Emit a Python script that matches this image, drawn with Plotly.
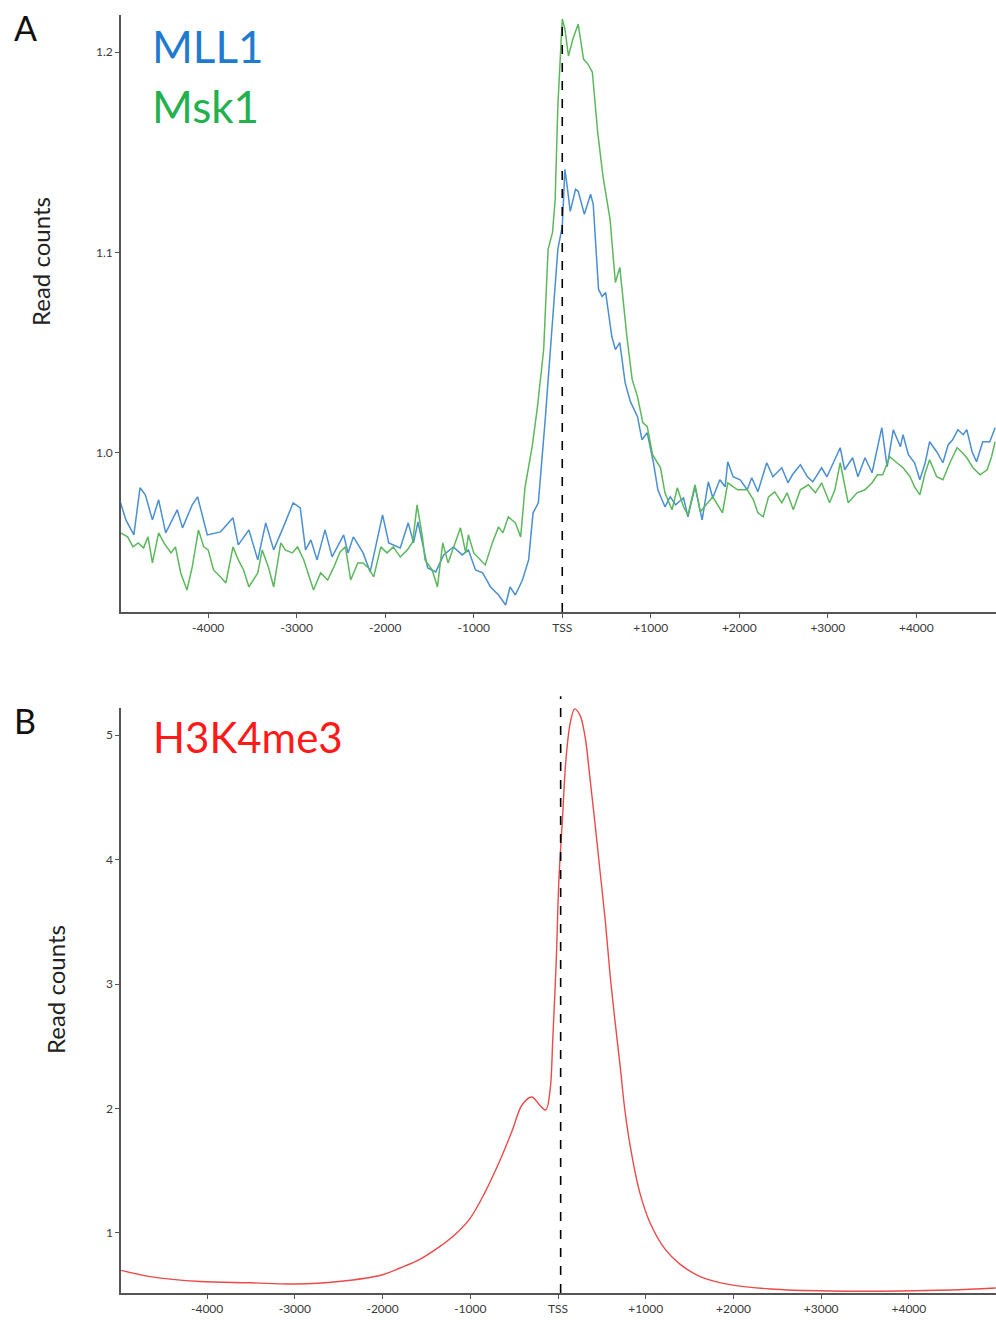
import plotly.graph_objects as go

# ---------------- Panel A data ----------------
mll1_pos = [-4990, -4930, -4840, -4770, -4710, -4630, -4560, -4480, -4350, -4290, -4180, -4120,
            -4010, -3860, -3720, -3660, -3540, -3440, -3350, -3260, -3150, -3040, -2960, -2900,
            -2840, -2770, -2680, -2600, -2470, -2420, -2360, -2250, -2170, -2030, -1960, -1830,
            -1740, -1680, -1630, -1520, -1430, -1340, -1230, -1130, -1060, -980, -900, -810,
            -720, -640, -590, -530, -450, -380, -330, -270, -190, -110, -50, 0, 30, 60, 90,
            150, 180, 250, 320, 350, 410, 450, 490, 560, 600, 650, 710, 770, 850, 900, 960,
            1030, 1080, 1160, 1220, 1280, 1370, 1420, 1500, 1580, 1650, 1700, 1780, 1840, 1870,
            1930, 2010, 2090, 2140, 2210, 2310, 2380, 2480, 2550, 2600, 2690, 2770, 2830, 2930,
            2990, 3060, 3140, 3190, 3280, 3340, 3420, 3500, 3560, 3610, 3670, 3740, 3820, 3850,
            3910, 3980, 4040, 4100, 4150, 4230, 4300, 4360, 4410, 4470, 4530, 4570, 4630, 4680,
            4750, 4830, 4890]
mll1_val = [0.975, 0.9665, 0.959, 0.9825, 0.979, 0.9665, 0.9765, 0.960, 0.9715, 0.9625, 0.974, 0.978,
            0.959, 0.9605, 0.9675, 0.954, 0.9615, 0.9465, 0.965, 0.9515, 0.963, 0.975, 0.9725, 0.9515,
            0.9565, 0.9465, 0.9615, 0.948, 0.959, 0.950, 0.958, 0.950, 0.9405, 0.969, 0.955, 0.9525,
            0.965, 0.955, 0.9655, 0.9425, 0.9405, 0.949, 0.953, 0.949, 0.9515, 0.9415, 0.940, 0.933,
            0.929, 0.924, 0.933, 0.929, 0.9365, 0.9465, 0.970, 0.975, 1.018, 1.065, 1.1015, 1.113,
            1.1415, 1.1315, 1.1205, 1.1315, 1.1305, 1.119, 1.129, 1.124, 1.0815, 1.078, 1.080, 1.058,
            1.0515, 1.055, 1.035, 1.0255, 1.018, 1.0065, 1.010, 0.995, 0.9815, 0.973, 0.978, 0.974,
            0.9775, 0.968, 0.983, 0.9665, 0.9855, 0.9775, 0.9865, 0.983, 0.9955, 0.988, 0.9865,
            0.9815, 0.9875, 0.9805, 0.995, 0.988, 0.9925, 0.985, 0.989, 0.994, 0.988, 0.9855,
            0.9925, 0.988, 0.995, 1.0025, 0.9915, 0.9975, 0.988, 0.9975, 0.990, 1.003, 1.0125,
            0.993, 1.0115, 1.003, 1.009, 0.999, 0.995, 0.9865, 0.995, 1.0055, 1.0005, 0.995,
            1.004, 1.0065, 1.0115, 1.009, 1.0115, 1.0005, 0.9955, 1.0055, 1.0055, 1.0125]

msk1_pos = [-4990, -4910, -4850, -4790, -4730, -4680, -4630, -4560, -4500, -4420, -4370, -4310,
            -4240, -4180, -4110, -4050, -4000, -3940, -3860, -3800, -3720, -3660, -3600, -3540,
            -3440, -3390, -3320, -3260, -3180, -3130, -3050, -2990, -2920, -2870, -2810, -2730,
            -2650, -2580, -2510, -2450, -2390, -2310, -2250, -2190, -2130, -2050, -1980, -1910,
            -1830, -1750, -1690, -1640, -1580, -1550, -1470, -1410, -1350, -1290, -1230, -1150,
            -1090, -1060, -1000, -930, -870, -790, -720, -670, -610, -530, -470, -420, -340,
            -280, -210, -160, -110, -80, -50, 0, 30, 70, 120, 180, 240, 290, 340, 400, 460, 540,
            600, 650, 730, 790, 850, 910, 960, 1020, 1110, 1160, 1240, 1300, 1370, 1420, 1500,
            1560, 1640, 1700, 1810, 1870, 1980, 2090, 2160, 2210, 2270, 2330, 2400, 2480, 2540,
            2610, 2690, 2780, 2860, 2930, 3020, 3080, 3140, 3230, 3330, 3420, 3500, 3560, 3620,
            3700, 3780, 3850, 3930, 3980, 4040, 4100, 4150, 4230, 4300, 4380, 4460, 4510, 4570,
            4640, 4720, 4800, 4850, 4890]
msk1_val = [0.960, 0.958, 0.953, 0.955, 0.9525, 0.958, 0.945, 0.960, 0.955, 0.950, 0.953, 0.940,
            0.9315, 0.943, 0.9615, 0.953, 0.9515, 0.9415, 0.938, 0.935, 0.953, 0.9465, 0.9415, 0.933,
            0.940, 0.9515, 0.943, 0.933, 0.955, 0.9515, 0.950, 0.953, 0.9465, 0.940, 0.9315, 0.940,
            0.9365, 0.943, 0.9505, 0.953, 0.9365, 0.945, 0.945, 0.9425, 0.938, 0.953, 0.950, 0.953,
            0.948, 0.9515, 0.9555, 0.974, 0.958, 0.9465, 0.9415, 0.933, 0.955, 0.945, 0.953, 0.9625,
            0.950, 0.959, 0.950, 0.9465, 0.944, 0.955, 0.963, 0.960, 0.968, 0.965, 0.958, 0.983, 1.003,
            1.023, 1.0515, 1.1015, 1.110, 1.1265, 1.173, 1.2165, 1.2115, 1.198, 1.2065, 1.214, 1.1965,
            1.194, 1.190, 1.160, 1.138, 1.1165, 1.085, 1.0925, 1.058, 1.0365, 1.028, 1.015, 1.013,
            0.999, 0.9925, 0.980, 0.9715, 0.9825, 0.973, 0.969, 0.984, 0.9705, 0.975, 0.978, 0.970,
            0.985, 0.9815, 0.9815, 0.9765, 0.970, 0.968, 0.978, 0.9805, 0.975, 0.980, 0.9715, 0.9815,
            0.984, 0.980, 0.985, 0.975, 0.9815, 0.995, 0.975, 0.980, 0.9815, 0.985, 0.989, 0.989,
            0.998, 0.995, 0.9925, 0.988, 0.983, 0.979, 0.990, 0.9965, 0.988, 0.9865, 0.995, 1.0025,
            1.0005, 0.9975, 0.9925, 0.989, 0.9915, 0.998, 1.0055]

# ---------------- Panel B data ----------------
h3_pos = [-4980, -4650, -4080, -3510, -3000, -2500, -2000, -1800, -1570, -1350, -1170,
          -1000, -830, -660, -520, -410, -300, -210, -140, -90, -60, -20, 10, 50, 90, 140, 190,
          250, 310, 360, 420, 480, 540, 590, 650, 710, 760, 820, 930, 1050, 1220, 1390, 1620,
          1960, 2420, 3100, 3900, 4470, 4990]
h3_val = [0.70, 0.65, 0.61, 0.60, 0.59, 0.61, 0.665, 0.719, 0.790, 0.89, 0.99,
          1.12, 1.33, 1.586, 1.827, 2.028, 2.092, 2.028, 1.988, 2.149, 2.55, 3.19, 3.835, 4.317,
          4.80, 5.10, 5.21, 5.16, 4.98, 4.68, 4.30, 3.90, 3.50, 3.10, 2.70, 2.33, 2.00, 1.71,
          1.33, 1.08, 0.87, 0.75, 0.65, 0.585, 0.55, 0.534, 0.534, 0.542, 0.558]

tick_vals = [-4000, -3000, -2000, -1000, 0, 1000, 2000, 3000, 4000]
tick_text = ["-4000", "-3000", "-2000", "-1000", "TSS", "+1000", "+2000", "+3000", "+4000"]
yA_ticks = [1.0, 1.1, 1.2]
yA_text = ["1.0", "1.1", "1.2"]
yB_ticks = [1, 2, 3, 4, 5]
yB_text = ["1", "2", "3", "4", "5"]

W, H = 996, 1320
FONT = "Lato"

fig = go.Figure()
fig.add_trace(go.Scatter(x=mll1_pos, y=mll1_val, mode="lines",
                         line=dict(color="#4a8fd0", width=1.5), xaxis="x", yaxis="y",
                         showlegend=False))
fig.add_trace(go.Scatter(x=msk1_pos, y=msk1_val, mode="lines",
                         line=dict(color="#5cb85c", width=1.5), xaxis="x", yaxis="y",
                         showlegend=False))
fig.add_trace(go.Scatter(x=h3_pos, y=h3_val, mode="lines", line_shape="spline",
                         line=dict(color="#ea4a4a", width=1.4), xaxis="x2", yaxis="y2",
                         showlegend=False))

axis_common = dict(showline=True, linecolor="#555555", linewidth=1.5, showgrid=False,
                   zeroline=False, ticks="outside", ticklen=4, tickwidth=1, tickcolor="#555555",
                   tickfont=dict(family=FONT, size=12, color="#3a3a3a"))

x0 = 121 / W
fig.update_layout(
    width=W, height=H, margin=dict(l=0, r=0, t=0, b=0),
    plot_bgcolor="white", paper_bgcolor="white",
    xaxis=dict(domain=[x0, 1.0], range=[-4985, 4900], tickvals=tick_vals, ticktext=tick_text,
               anchor="y", **axis_common),
    yaxis=dict(domain=[1 - 612 / H, 1 - 15 / H], range=[0.9205, 1.2185], tickvals=yA_ticks,
               ticktext=yA_text, anchor="x", **axis_common),
    xaxis2=dict(domain=[x0, 1.0], range=[-4982, 4993], tickvals=tick_vals, ticktext=tick_text,
                anchor="y2", **axis_common),
    yaxis2=dict(domain=[1 - 1293 / H, 1 - 708 / H], range=[0.518, 5.217], tickvals=yB_ticks,
                ticktext=yB_text, anchor="x2", **axis_common),
)

# TSS dashed lines
fig.add_shape(type="line", xref="x", yref="y domain", x0=0, x1=0, y0=0, y1=0.995,
              line=dict(color="black", width=1.6, dash="dash"))
fig.add_shape(type="line", xref="x2", yref="y2 domain", x0=30, x1=30, y0=0, y1=1.02,
              line=dict(color="black", width=1.6, dash="dash"))

def ann(text, px, py, size, color, angle=0, xanchor="left"):
    fig.add_annotation(text=text, x=px / W, y=1 - py / H, xref="paper", yref="paper",
                       showarrow=False, xanchor=xanchor, yanchor="middle", textangle=angle,
                       font=dict(family=FONT, size=size, color=color))

ann("A", 12, 27, 34, "#111111")
ann("B", 12, 720, 34, "#111111")
ann("MLL1", 150, 46, 44, "#1f7bd0")
ann("Msk1", 150, 106, 44, "#22b14c")
ann("H3K4me3", 151, 737, 42, "#ff1a1a")
ann("Read counts", 40, 262, 24, "#222222", angle=-90, xanchor="center")
ann("Read counts", 55, 990, 24, "#222222", angle=-90, xanchor="center")

fig.write_html("out.html", config={"displayModeBar": False},
               post_script="document.body.style.margin='0px';document.body.style.overflow='hidden';")
